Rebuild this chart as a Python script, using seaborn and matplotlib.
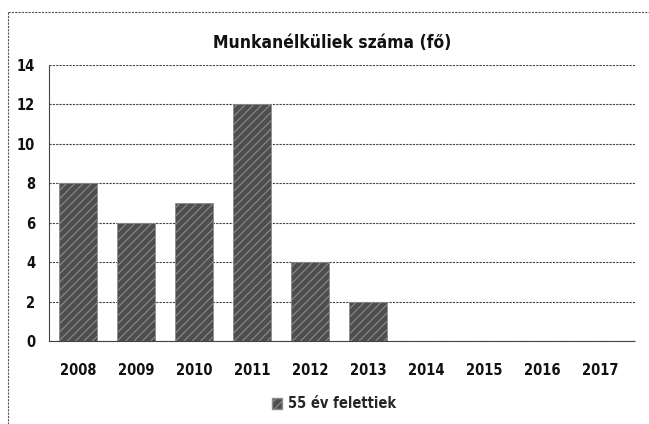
import matplotlib
matplotlib.use("Agg")
import matplotlib.pyplot as plt
from matplotlib.lines import Line2D
from matplotlib.patches import Patch
from matplotlib import font_manager
import seaborn as sns
import pandas as pd

years = ["2008", "2009", "2010", "2011", "2012", "2013", "2014", "2015", "2016", "2017"]
over55 = [8, 6, 7, 12, 4, 2, 0, 0, 0, 0]
yticks = [0, 2, 4, 6, 8, 10, 12, 14]
series_name = "55 év felettiek"
title = "Munkanélküliek száma (fő)"

df = pd.DataFrame({"year": years, "count": over55})

sns.set_theme(style="white")
names = {f.name for f in font_manager.fontManager.ttflist}
narrow = [n for n in ["Liberation Sans Narrow", "DejaVu Sans Condensed"] if n in names]
plt.rcParams["font.family"] = narrow + ["DejaVu Sans"]
plt.rcParams["font.stretch"] = "condensed"
plt.rcParams["hatch.linewidth"] = 0.8

W, H = 649, 424
fig = plt.figure(figsize=(W / 100, H / 100), dpi=100)
ax = fig.add_axes([49 / W, 1 - 341 / H, (635 - 49) / W, (341 - 65) / H])

bar_color = "#4e4e4e"
sns.barplot(data=df, x="year", y="count", ax=ax, color=bar_color,
            width=0.66, saturation=1, edgecolor="#333333", linewidth=0.6)
for p in ax.patches:
    p.set_hatch("////")
    p.set_edgecolor("#8c8c8c")

ax.set_ylim(0, 14)
ax.set_xlim(-0.5, 9.6)
ax.set_yticks(yticks)
ax.set_yticklabels([str(v) for v in yticks])
ax.set_xlabel("")
ax.set_ylabel("")
ax.set_axisbelow(True)
ax.yaxis.grid(True, color="#444444", linestyle=(0, (2, 1)), linewidth=0.8)
ax.xaxis.grid(False)
for side in ["top", "right"]:
    ax.spines[side].set_visible(False)
for side in ["left", "bottom"]:
    ax.spines[side].set_color("#444444")
    ax.spines[side].set_linestyle((0, (2, 1)))
    ax.spines[side].set_linewidth(0.8)
ax.tick_params(axis="both", length=0, colors="#111111", labelsize=10.5)
ax.tick_params(axis="x", pad=16)
ax.tick_params(axis="y", pad=10)
for lbl in ax.get_xticklabels() + ax.get_yticklabels():
    lbl.set_fontweight("bold")

fig.text(332 / W, 1 - 43 / H, title, ha="center", va="center",
         fontsize=12.5, fontweight="bold", color="#111111")

handle = Patch(facecolor=bar_color, edgecolor="#8c8c8c", hatch="////")
fig.legend([handle], [series_name], loc="center", bbox_to_anchor=(334 / W, 1 - 404 / H),
           frameon=False, handlelength=0.7, handleheight=0.7, handletextpad=0.4,
           prop={"weight": "bold", "size": 10.5})

# chart frame
frame_kw = dict(color="#555555", linewidth=0.8, linestyle=(0, (2, 1)))
fig.add_artist(Line2D([8 / W, 1.0], [1 - 12 / H, 1 - 12 / H], transform=fig.transFigure, **frame_kw))
fig.add_artist(Line2D([8 / W, 8 / W], [1 - 12 / H, 0.0], transform=fig.transFigure, **frame_kw))

fig.savefig("out.png", dpi=100)
